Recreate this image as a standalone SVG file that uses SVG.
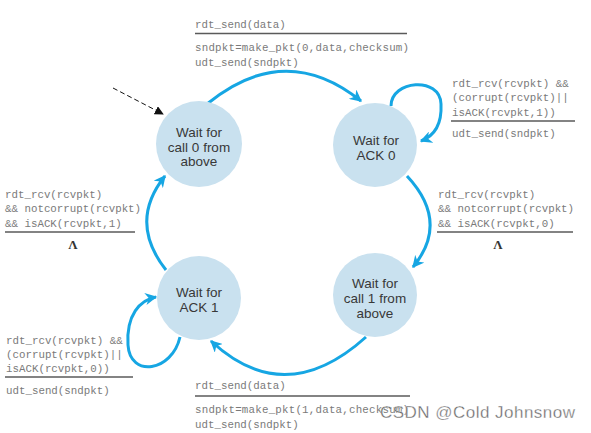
<svg xmlns="http://www.w3.org/2000/svg" width="591" height="433" viewBox="0 0 591 433">
<style>
.st{fill:#c9e1ef;stroke:none}
.nt{font-family:"Liberation Sans",Arial,sans-serif;font-size:13.5px;fill:#383838;text-anchor:middle}
.lb{font-family:"Liberation Mono","Courier New",monospace;font-size:10.8px;fill:#7a7a7a}
.ln{stroke:#5a5a5a;stroke-width:1.5}
.ar{fill:none;stroke:#16a6e3;stroke-width:3}
.lam{font-family:"Liberation Serif","Times New Roman",serif;font-size:13px;fill:#333;text-anchor:middle;font-weight:bold}
</style>
<defs>
<marker id="ah" viewBox="0 0 10 10" refX="9" refY="5" markerWidth="4" markerHeight="4" orient="auto" markerUnits="strokeWidth">
<path d="M0,0 L10,5 L0,10 L3,5 z" fill="#16a6e3"/>
</marker>
<marker id="dh" viewBox="0 0 10 10" refX="9" refY="5" markerWidth="9" markerHeight="9" orient="auto" markerUnits="strokeWidth">
<path d="M0,0 L10,5 L0,10 z" fill="#111"/>
</marker>
</defs>
<rect width="591" height="433" fill="#fff"/>

<g id="connectors">
<path class="ar" d="M207,104 Q285,40 361,101" marker-end="url(#ah)"/>
<path class="ar" d="M407,176 Q450,222 413,267" marker-end="url(#ah)"/>
<path class="ar" d="M366,337 Q285,410 211,341" marker-end="url(#ah)"/>
<path class="ar" d="M166,270 Q128,222 165,176" marker-end="url(#ah)"/>
<path class="ar" d="M391,106 C391,80 440,76 441,104 C442,124 434,136 421,141" marker-end="url(#ah)"/>
<path class="ar" d="M180,337 C172,372 130,378 128,345 C126,315 140,300 156,297" marker-end="url(#ah)"/>
<path d="M113,88 L163,114" stroke="#111" stroke-width="1" stroke-dasharray="5,3" fill="none" marker-end="url(#dh)"/>
</g>

<g id="wait_call0">
<circle class="st" cx="199" cy="144" r="43"/>
<text class="nt" x="199" y="137">Wait for</text>
<text class="nt" x="199" y="152">call 0 from</text>
<text class="nt" x="199" y="166">above</text>
</g>
<g id="wait_ack0">
<circle class="st" cx="375" cy="145" r="42"/>
<text class="nt" x="376" y="145">Wait for</text>
<text class="nt" x="376" y="160">ACK 0</text>
</g>
<g id="wait_call1">
<circle class="st" cx="375" cy="295" r="42"/>
<text class="nt" x="375" y="288">Wait for</text>
<text class="nt" x="375" y="303">call 1 from</text>
<text class="nt" x="375" y="318">above</text>
</g>
<g id="wait_ack1">
<circle class="st" cx="199" cy="298" r="42"/>
<text class="nt" x="199" y="297">Wait for</text>
<text class="nt" x="199" y="312">ACK 1</text>
</g>

<g id="label_top">
<text class="lb" x="195" y="28">rdt_send(data)</text>
<line class="ln" x1="195" y1="33.5" x2="407" y2="33.5"/>
<text class="lb" x="195" y="51" textLength="214">sndpkt=make_pkt(0,data,checksum)</text>
<text class="lb" x="195" y="66">udt_send(sndpkt)</text>
</g>
<g id="label_ack0_loop">
<text class="lb" x="452" y="87">rdt_rcv(rcvpkt) &amp;&amp;</text>
<text class="lb" x="452" y="101">(corrupt(rcvpkt)||</text>
<text class="lb" x="452" y="116">isACK(rcvpkt,1))</text>
<line class="ln" x1="451" y1="121" x2="575" y2="121"/>
<text class="lb" x="452" y="137">udt_send(sndpkt)</text>
</g>
<g id="label_right">
<text class="lb" x="438" y="198">rdt_rcv(rcvpkt)</text>
<text class="lb" x="438" y="212">&amp;&amp; notcorrupt(rcvpkt)</text>
<text class="lb" x="438" y="227">&amp;&amp; isACK(rcvpkt,0)</text>
<line class="ln" x1="437" y1="232" x2="573" y2="232"/>
<text class="lam" x="498" y="249">Λ</text>
</g>
<g id="label_left">
<text class="lb" x="5" y="198">rdt_rcv(rcvpkt)</text>
<text class="lb" x="5" y="212">&amp;&amp; notcorrupt(rcvpkt)</text>
<text class="lb" x="5" y="227">&amp;&amp; isACK(rcvpkt,1)</text>
<line class="ln" x1="5" y1="232" x2="135" y2="232"/>
<text class="lam" x="73" y="249">Λ</text>
</g>
<g id="label_ack1_loop">
<text class="lb" x="6" y="344">rdt_rcv(rcvpkt) &amp;&amp;</text>
<text class="lb" x="6" y="358">(corrupt(rcvpkt)||</text>
<text class="lb" x="6" y="372">isACK(rcvpkt,0))</text>
<line class="ln" x1="5" y1="377" x2="133" y2="377"/>
<text class="lb" x="6" y="394">udt_send(sndpkt)</text>
</g>
<g id="label_bottom">
<text class="lb" x="195" y="389">rdt_send(data)</text>
<line class="ln" x1="195" y1="396" x2="410" y2="396"/>
<text class="lb" x="195" y="413" textLength="214">sndpkt=make_pkt(1,data,checksum)</text>
<text class="lb" x="195" y="428">udt_send(sndpkt)</text>
</g>
<text x="380" y="418" font-family="Liberation Sans,Arial,sans-serif" font-size="17" fill="#6a6a6a" textLength="195" stroke="#fff" stroke-width="0.3">CSDN @Cold Johnsnow</text>
</svg>
